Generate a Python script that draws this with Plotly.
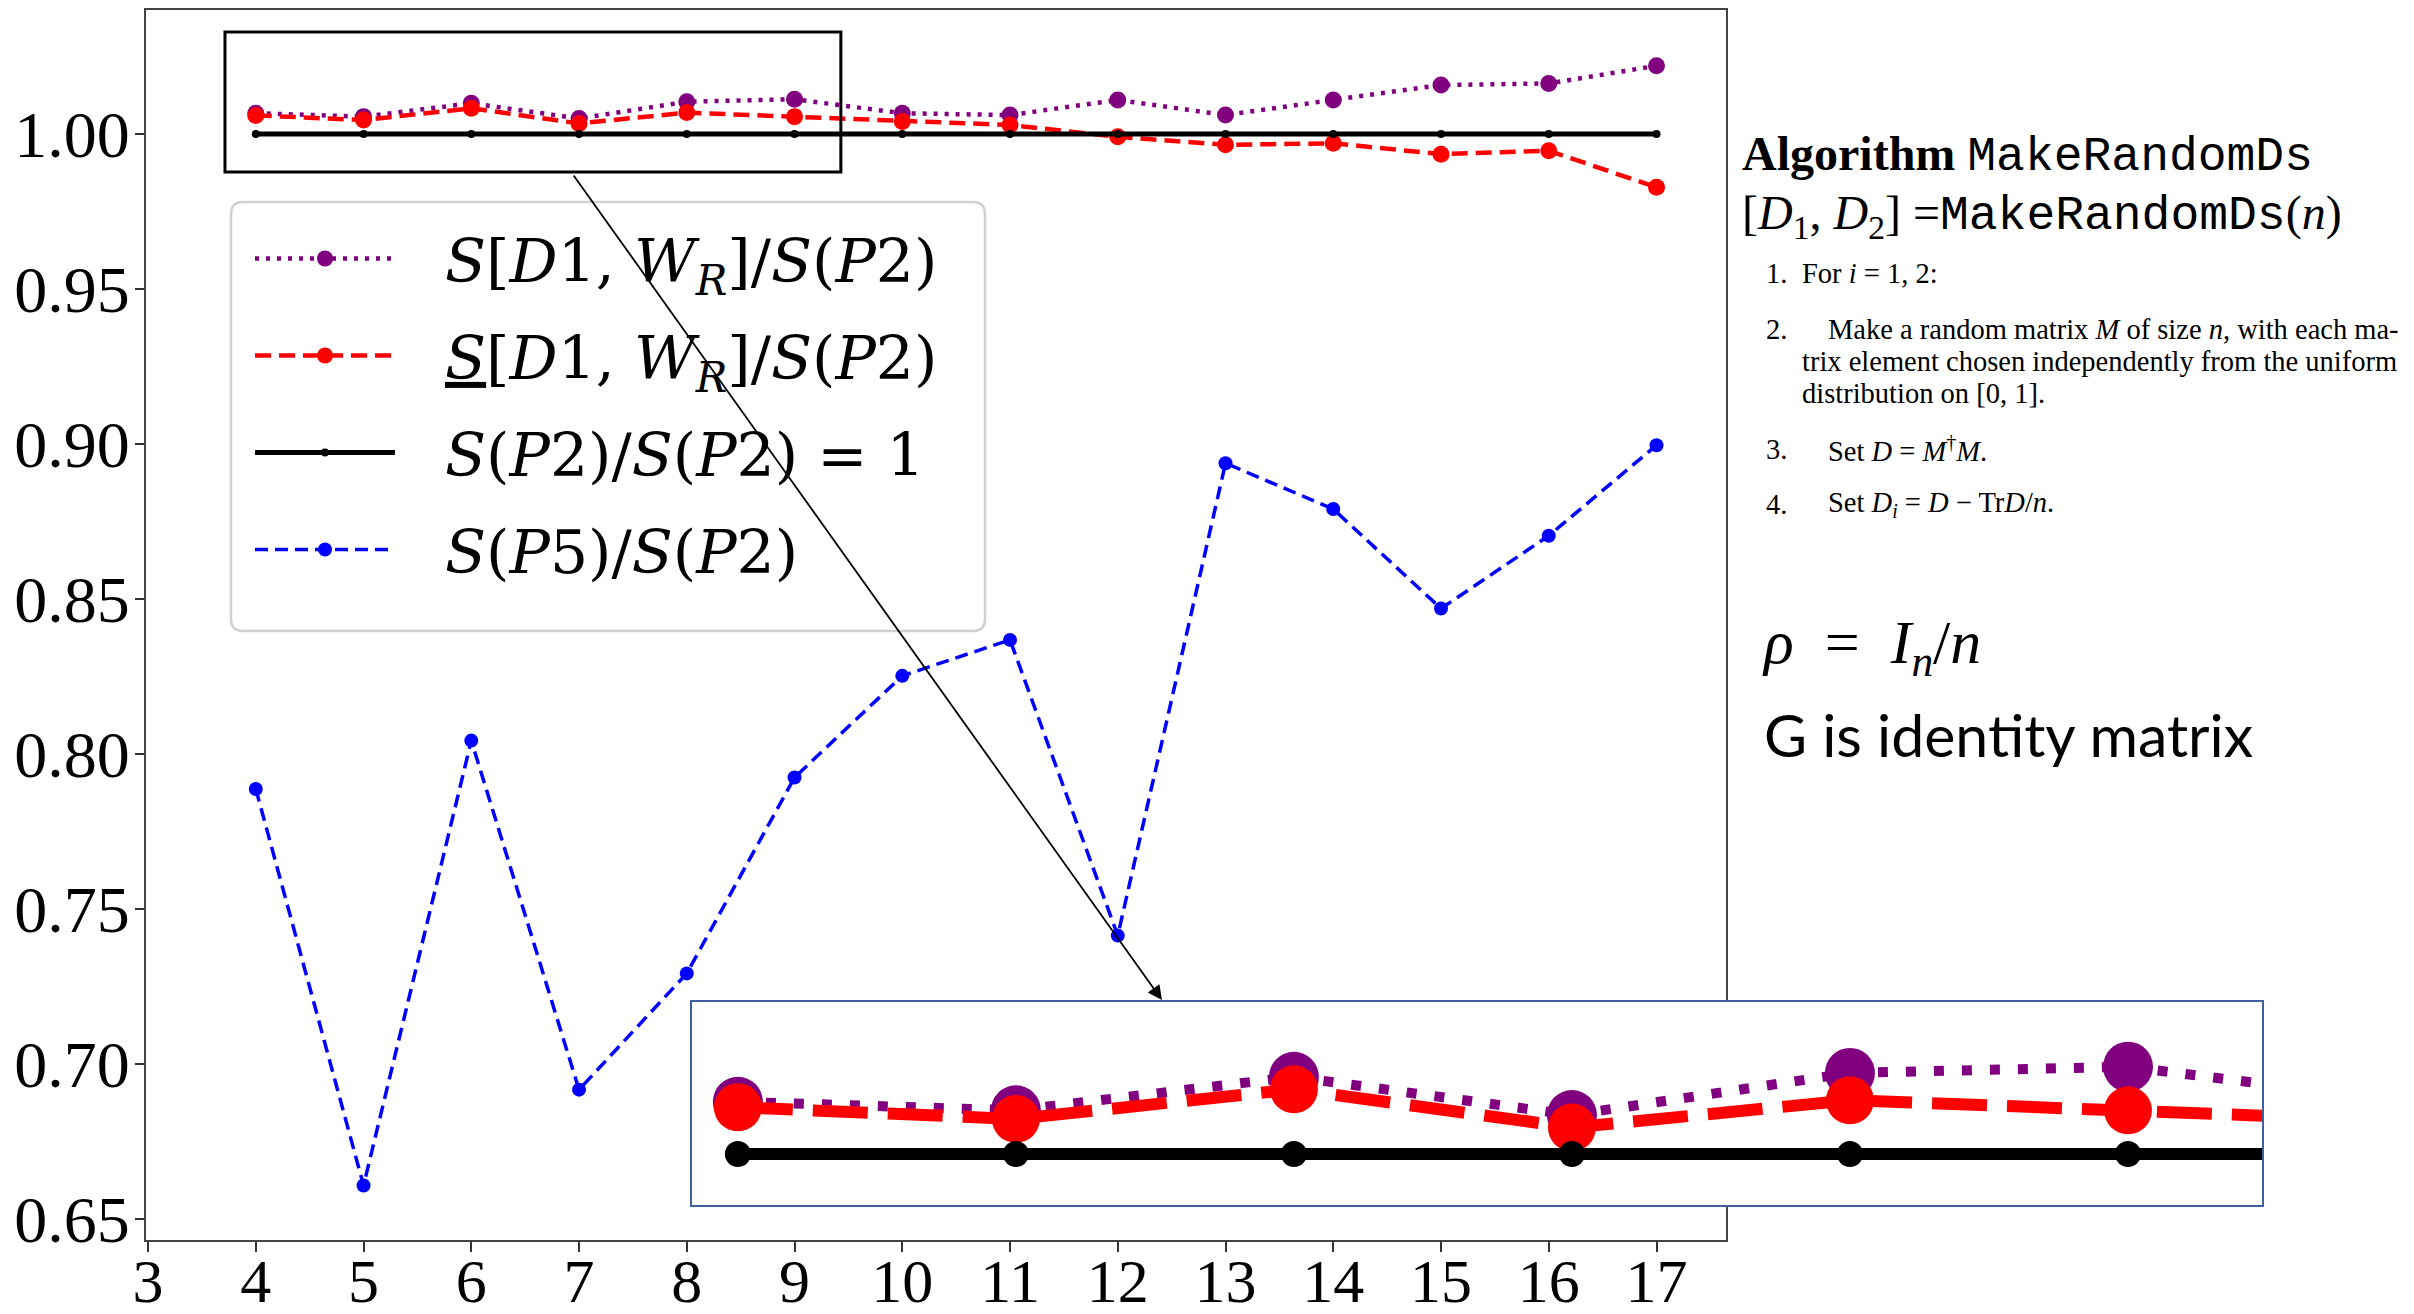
import plotly.graph_objects as go

# ---------------- data ----------------
n_values = [4, 5, 6, 7, 8, 9, 10, 11, 12, 13, 14, 15, 16, 17]
s_upper = [1.0067, 1.0056, 1.0099, 1.0050, 1.0104, 1.0112, 1.0067, 1.0061,
           1.0110, 1.0061, 1.0110, 1.0158, 1.0163, 1.0220]
s_lower = [1.0060, 1.0045, 1.0083, 1.0034, 1.0069, 1.0056, 1.0040, 1.0029,
           0.9991, 0.9965, 0.9970, 0.9935, 0.9946, 0.9828]
s_p2 = [1.0, 1.0, 1.0, 1.0, 1.0, 1.0, 1.0, 1.0, 1.0, 1.0, 1.0, 1.0, 1.0, 1.0]
s_p5 = [0.7887, 0.6608, 0.8043, 0.6917, 0.7292, 0.7924, 0.8252, 0.8368,
        0.7414, 0.8938, 0.8790, 0.8469, 0.8704, 0.8996]

x_ticks = [3, 4, 5, 6, 7, 8, 9, 10, 11, 12, 13, 14, 15, 16, 17]
y_ticks = [0.65, 0.70, 0.75, 0.80, 0.85, 0.90, 0.95, 1.00]
y_tick_labels = ["0.65", "0.70", "0.75", "0.80", "0.85", "0.90", "0.95", "1.00"]

GAP = "\u2002\u2005"
labels = [
    GAP + "<i>S</i>[<i>D</i>1, <i>W</i><sub><i>R</i></sub>]/<i>S</i>(<i>P</i>2)",
    GAP + "<u><i>S</i></u>[<i>D</i>1, <i>W</i><sub><i>R</i></sub>]/<i>S</i>(<i>P</i>2)",
    GAP + "<i>S</i>(<i>P</i>2)/<i>S</i>(<i>P</i>2) = 1",
    GAP + "<i>S</i>(<i>P</i>5)/<i>S</i>(<i>P</i>2)",
]

PURPLE = "#800080"
RED = "#ff0000"
BLACK = "#000000"
BLUE = "#0000ff"

W, H = 2414, 1314
ML, MR, MT, MB = 146, 152, 10, 74
PW = W - ML - MR  # 2116
PH = H - MT - MB  # 1230


def px(xp):
    return (xp - ML) / PW


def py(yp):
    return (H - MB - yp) / PH


SERIF = "Liberation Serif, Times New Roman, serif"
LEGSERIF = "DejaVu Serif, serif"

fig = go.Figure()

# ---------------- main traces ----------------
main_styles = [
    (s_upper, PURPLE, "4px,7px", 4.5, 17),
    (s_lower, RED, "16px,8px", 4.5, 17),
    (s_p2, BLACK, "solid", 5, 8),
    (s_p5, BLUE, "13px,7px", 3.5, 14),
]
for i, (vals, col, dash, lw, ms) in enumerate(main_styles):
    fig.add_trace(go.Scatter(
        x=n_values, y=vals, mode="lines+markers", name=labels[i],
        legendgroup=f"g{i}",
        line=dict(color=col, width=lw, dash=dash),
        marker=dict(color=col, size=ms),
        xaxis="x", yaxis="y",
    ))

# ---------------- inset (magnified) traces ----------------
inset_styles = [
    (s_upper, PURPLE, "10px,18px", 10, 50),
    (s_lower, RED, "55px,20px", 12, 48),
    (s_p2, BLACK, "solid", 12, 26),
]
for i, (vals, col, dash, lw, ms) in enumerate(inset_styles):
    fig.add_trace(go.Scatter(
        x=n_values, y=vals, mode="lines+markers", showlegend=False,
        legendgroup=f"g{i}",
        line=dict(color=col, width=lw, dash=dash),
        marker=dict(color=col, size=ms),
        xaxis="x2", yaxis="y2", hoverinfo="skip",
    ))

main_dom_right = px(1726)

fig.update_layout(
    width=W, height=H,
    margin=dict(l=ML, r=MR, t=MT, b=MB, pad=0),
    paper_bgcolor="white", plot_bgcolor="white",
    font=dict(family=SERIF, color="black"),
    xaxis=dict(
        domain=[0, main_dom_right], range=[2.981, 17.645], automargin=False,
        tickmode="array", tickvals=x_ticks,
        ticks="outside", ticklen=10, tickwidth=2, tickcolor="#333",
        ticklabelstandoff=-24,
        showline=True, mirror=True, linecolor="#444", linewidth=2,
        showgrid=False, zeroline=False,
        tickfont=dict(family=SERIF, size=62, color="black"),
    ),
    yaxis=dict(
        domain=[0, 1], range=[0.6432, 1.040], automargin=False,
        tickmode="array", tickvals=y_ticks, ticktext=y_tick_labels,
        ticks="outside", ticklen=9, tickwidth=2, tickcolor="#333",
        ticklabelstandoff=-8,
        showline=True, mirror=True, linecolor="#444", linewidth=2,
        showgrid=False, zeroline=False,
        tickfont=dict(family=SERIF, size=66, color="black"),
    ),
    xaxis2=dict(
        domain=[px(692), 1.0], range=[3.835, 9.482], anchor="y2", automargin=False,
        showline=True, mirror=True, linecolor="#3f5f9f", linewidth=2,
        showticklabels=False, ticks="", showgrid=False, zeroline=False,
    ),
    yaxis2=dict(
        domain=[py(1205), py(1002)], range=[0.99346, 1.0195], anchor="x2", automargin=False,
        showline=True, mirror=True, linecolor="#3f5f9f", linewidth=2,
        showticklabels=False, ticks="", showgrid=False, zeroline=False,
    ),
    legend=dict(
        x=px(250), y=py(213), xanchor="left", yanchor="top",
        bgcolor="rgba(0,0,0,0)", borderwidth=0,
        font=dict(family=LEGSERIF, size=60, color="black"),
        tracegroupgap=16, itemwidth=140,
        traceorder="grouped",
    ),
    showlegend=True,
)

# legend frame (rounded, light grey) drawn as a paper shape behind the legend
x0, x1 = px(231), px(985)
y0, y1 = py(631), py(202)
rx, ry = 12 / PW, 12 / PH
frame_path = (
    f"M{x0+rx},{y1} L{x1-rx},{y1} Q{x1},{y1} {x1},{y1-ry} "
    f"L{x1},{y0+ry} Q{x1},{y0} {x1-rx},{y0} "
    f"L{x0+rx},{y0} Q{x0},{y0} {x0},{y0+ry} "
    f"L{x0},{y1-ry} Q{x0},{y1} {x0+rx},{y1} Z"
)
fig.add_shape(type="path", xref="paper", yref="paper", path=frame_path,
              fillcolor="rgba(255,255,255,0.9)", line=dict(color="#d0d0d0", width=2.5),
              layer="above")

# zoom-source rectangle on the main plot
fig.add_shape(type="rect", xref="x", yref="y",
              x0=3.714, x1=9.43, y0=0.9877, y1=1.0329,
              line=dict(color="black", width=3), layer="above")

# arrow from rectangle to inset
fig.add_annotation(x=12.41, y=0.7206, xref="x", yref="y",
                   ax=6.94, ay=0.9871, axref="x", ayref="y",
                   text="", showarrow=True, arrowhead=2, arrowsize=1.6,
                   arrowwidth=1.8, arrowcolor="black", standoff=0)

# ---------------- right-hand text panel ----------------
TT = "<span style='font-family:Liberation Mono'>MakeRandomDs</span>"


def txt(x, y, s, size, family=SERIF, yanchor="middle"):
    fig.add_annotation(x=px(x), y=py(y), xref="paper", yref="paper",
                       text=s, showarrow=False, xanchor="left", yanchor=yanchor,
                       align="left", font=dict(family=family, size=size, color="black"))


txt(1740, 155, "<b>Algorithm</b> " + TT, 48)
txt(1740, 216, "[<i>D</i><sub>1</sub>, <i>D</i><sub>2</sub>] =" + TT + "(<i>n</i>)", 48)

LS = 28.5
txt(1764, 274, "1.", LS)
txt(1800, 274, "For <i>i</i> = 1, 2:", LS)
txt(1764, 330, "2.", LS)
txt(1826, 330, "Make a random matrix <i>M</i> of size <i>n</i>, with each ma-", LS)
txt(1800, 361, "trix element chosen independently from the uniform", LS)
txt(1800, 393, "distribution on [0, 1].", LS)
txt(1764, 449, "3.", LS)
txt(1826, 449, "Set <i>D</i> = <i>M</i><sup>†</sup><i>M</i>.", LS)
txt(1764, 504, "4.", LS)
txt(1826, 504, "Set <i>D<sub>i</sub></i> = <i>D</i> − Tr<i>D</i>/<i>n</i>.", LS)

txt(1760, 646, "<i>ρ</i>\u2002=\u2002<i>I</i><sub><i>n</i></sub>/<i>n</i>", 62)
txt(1762, 734, "G is identity matrix", 59, family="Lato, Carlito, sans-serif")

fig.write_html("out.html", config={"displayModeBar": False},
               post_script="document.body.style.margin='0px';")
